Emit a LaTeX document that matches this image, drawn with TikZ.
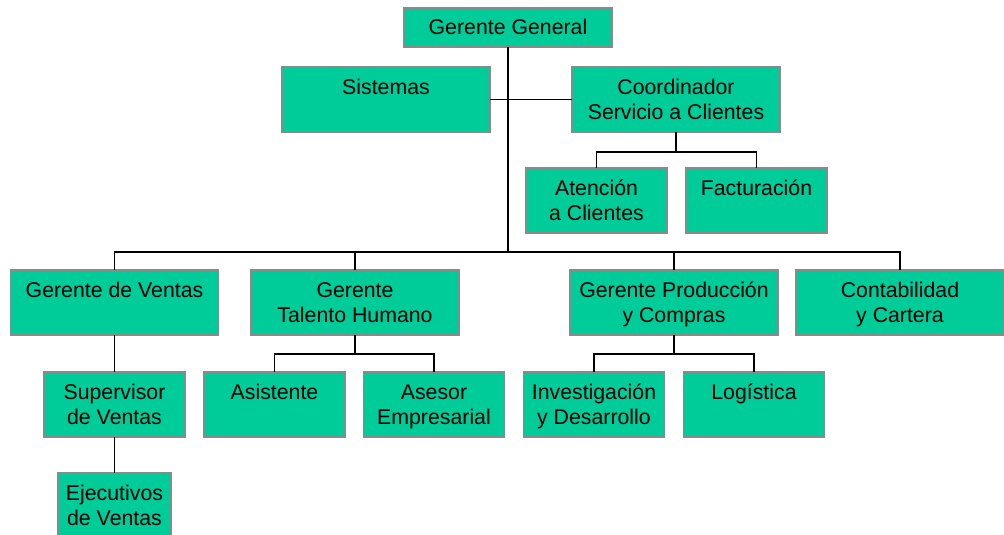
\documentclass[tikz,border=0pt]{standalone}
\usepackage{fontspec}
\setmainfont{Liberation Sans}
\definecolor{boxfill}{HTML}{00CC99}
\definecolor{boxline}{HTML}{8A8A8A}
\newcommand{\boxtext}[3]{\parbox[t][#2][t]{#1}{\centering\fontsize{21.3}{25}\selectfont\rule{0pt}{27pt}#3}}
\tikzset{
  orgbox/.style={draw=boxline, fill=boxfill, line width=1.5pt, inner sep=0pt, outer sep=0pt},
  conn/.style={draw=black, line width=1.5pt}
}
\begin{document}
\begin{tikzpicture}[x=1pt,y=-1pt]
\useasboundingbox (0,0) rectangle (1004,535);
% boxes
\node[orgbox] (gg) at (508,27.5) {\boxtext{208pt}{39pt}{Gerente General}};
\node[orgbox] (sis) at (386,99.5) {\boxtext{208pt}{65pt}{Sistemas}};
\node[orgbox] (coord) at (676,99.5) {\boxtext{208pt}{65pt}{Coordinador\\Servicio a Clientes}};
\node[orgbox] (aten) at (596.5,200.5) {\boxtext{141pt}{65pt}{Atención\\a Clientes}};
\node[orgbox] (fact) at (756.5,200.5) {\boxtext{141pt}{65pt}{Facturación}};
\node[orgbox] (gv) at (114.5,302.5) {\boxtext{208pt}{65pt}{Gerente de Ventas}};
\node[orgbox] (th) at (355,302.5) {\boxtext{208pt}{65pt}{Gerente\\Talento Humano}};
\node[orgbox] (gp) at (674,302.5) {\boxtext{208pt}{65pt}{Gerente Producción\\y Compras}};
\node[orgbox] (cc) at (900,302.5) {\boxtext{208pt}{65pt}{Contabilidad\\y Cartera}};
\node[orgbox] (sv) at (114.5,404.5) {\boxtext{141pt}{65pt}{Supervisor\\de Ventas}};
\node[orgbox] (asis) at (274.5,404.5) {\boxtext{141pt}{65pt}{Asistente}};
\node[orgbox] (ases) at (434,404.5) {\boxtext{141pt}{65pt}{Asesor\\Empresarial}};
\node[orgbox] (inv) at (594,404.5) {\boxtext{141pt}{65pt}{Investigación\\y Desarrollo}};
\node[orgbox] (log) at (754,404.5) {\boxtext{141pt}{65pt}{Logística}};
\node[orgbox] (ej) at (114.5,505.5) {\boxtext{113pt}{65pt}{Ejecutivos\\de Ventas}};
% junctions
\coordinate (hub) at (508,252);
\coordinate (cj) at (676,152);
\coordinate (tj) at (355,354);
\coordinate (pj) at (674,354);
% connectors
\draw[conn] (gg.south) -- (hub);
\draw[conn] (sis.east) -- (coord.west);
\draw[conn] (gv.north) |- (hub);
\draw[conn] (th.north) |- (hub);
\draw[conn] (gp.north) |- (hub);
\draw[conn] (cc.north) |- (hub);
\draw[conn] (coord.south) -- (cj);
\draw[conn] (aten.north) |- (cj);
\draw[conn] (fact.north) |- (cj);
\draw[conn] (th.south) -- (tj);
\draw[conn] (asis.north) |- (tj);
\draw[conn] (ases.north) |- (tj);
\draw[conn] (gp.south) -- (pj);
\draw[conn] (inv.north) |- (pj);
\draw[conn] (log.north) |- (pj);
\draw[conn] (gv.south) -- (sv.north);
\draw[conn] (sv.south) -- (ej.north);
\end{tikzpicture}
\end{document}
